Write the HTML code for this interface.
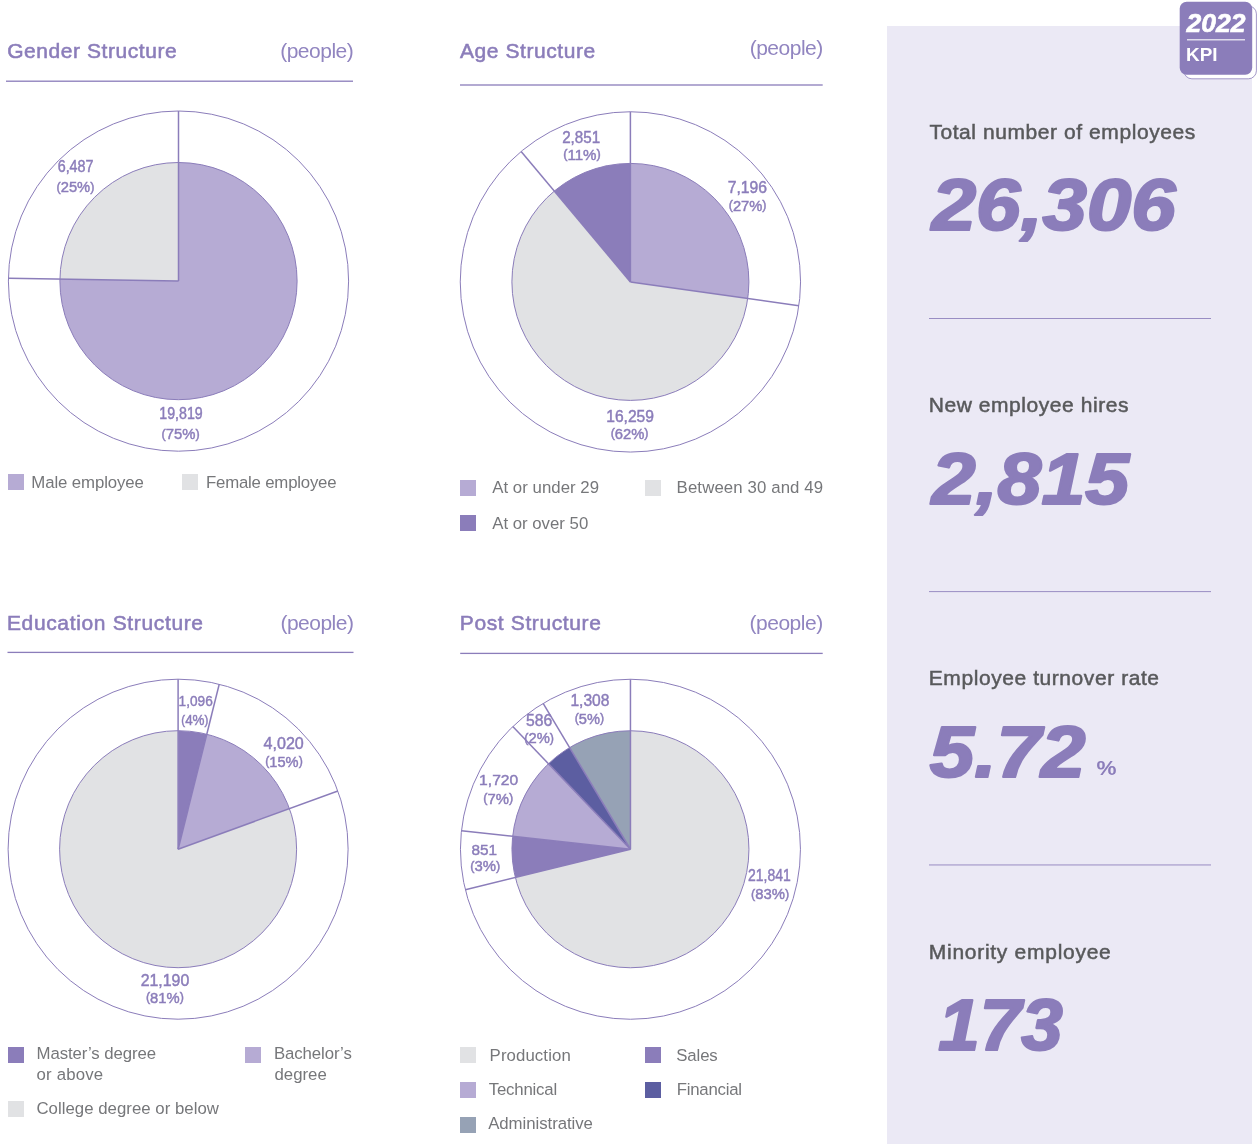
<!DOCTYPE html>
<html lang="en">
<head>
<meta charset="utf-8">
<title>Employee Structure – 2022 KPI</title>
<style>
html,body{margin:0;padding:0;background:#fff;}
body{width:1258px;height:1144px;overflow:hidden;font-family:"Liberation Sans",sans-serif;}
.page{position:relative;width:1258px;height:1144px;overflow:hidden;background:#fff;}
.page span,.page h2,.page p,.page i,.page svg,.page div{position:absolute;margin:0;padding:0;border:0;white-space:nowrap;line-height:1;}
.page svg{left:0;top:0;}
h2.t{color:#8b7dba;font-weight:normal;-webkit-text-stroke:0.55px #8b7dba;}
.u{color:#9185c0;font-weight:normal;}
i.sq{width:16px;height:16px;display:block;}
.lg{color:#76777a;font-weight:normal;}
.kl{color:#58595b;font-weight:normal;-webkit-text-stroke:0.5px #58595b;}
svg text{font-family:"Liberation Sans",sans-serif;}
svg .lb text{fill:#8b7dba;stroke:#8b7dba;stroke-width:0.45px;}
svg .num text{fill:#8b7dba;stroke:#8b7dba;stroke-width:2.2px;stroke-linejoin:round;font-weight:bold;font-style:italic;}
</style>
</head>
<body>
<main class="page">

<section id="gender">
<h2 class="t" style="left:7.20px;top:40px;font-size:21px;letter-spacing:0.56px">Gender Structure</h2>
<span class="u" style="left:280.20px;top:40px;font-size:21px;letter-spacing:-0.5px">(people)</span>
<svg width="1258" height="1144" viewBox="0 0 1258 1144">
<rect x="6" y="80.55" width="347.00" height="1.3" fill="#8b7dba"/>
<circle cx="178.5" cy="281.1" r="170.1" fill="#fff" stroke="#8b7dba" stroke-width="1"/>
<path d="M178.50 281.10L178.50 162.50A118.6 118.6 0 1 1 59.92 279.03Z" fill="#b6abd4"/>
<path d="M178.50 281.10L59.92 279.03A118.6 118.6 0 0 1 178.50 162.50Z" fill="#e1e2e4"/>
<circle cx="178.5" cy="281.1" r="118.6" fill="none" stroke="#8b7dba" stroke-width="1"/>
<line x1="178.5" y1="281.1" x2="178.50" y2="111.00" stroke="#8b7dba" stroke-width="1.5"/>
<line x1="178.5" y1="281.1" x2="8.43" y2="278.13" stroke="#8b7dba" stroke-width="1.5"/>
<g class="lb">
<text x="57.68" y="171.90" font-size="15.9" textLength="35.83" lengthAdjust="spacingAndGlyphs">6,487</text>
<text x="56.54" y="192.00" font-size="14.7" textLength="37.82" lengthAdjust="spacingAndGlyphs"><tspan font-size="12.5" dy="-1.3">(</tspan><tspan dy="1.3">25%</tspan><tspan font-size="12.5" dy="-1.3">)</tspan></text>
<text x="159.28" y="418.80" font-size="15.9" textLength="43.43" lengthAdjust="spacingAndGlyphs">19,819</text>
<text x="161.64" y="438.90" font-size="14.7" textLength="38.12" lengthAdjust="spacingAndGlyphs"><tspan font-size="12.5" dy="-1.3">(</tspan><tspan dy="1.3">75%</tspan><tspan font-size="12.5" dy="-1.3">)</tspan></text>
</g>
</svg>
<i class="sq" style="left:8px;top:474px;background:#b6abd4"></i>
<span class="lg" style="left:31.30px;top:475px;font-size:16.8px;letter-spacing:-0.1px">Male employee</span>
<i class="sq" style="left:182.2px;top:474px;background:#e1e2e4"></i>
<span class="lg" style="left:206.00px;top:475px;font-size:16.8px;letter-spacing:-0.2px">Female employee</span>
</section>
<section id="age">
<h2 class="t" style="left:460.00px;top:40px;font-size:21px;letter-spacing:0.56px">Age Structure</h2>
<span class="u" style="left:749.70px;top:37px;font-size:21px;letter-spacing:-0.5px">(people)</span>
<svg width="1258" height="1144" viewBox="0 0 1258 1144">
<rect x="460" y="84.35" width="362.70" height="1.3" fill="#8b7dba"/>
<circle cx="630.4" cy="281.9" r="170.15" fill="#fff" stroke="#8b7dba" stroke-width="1"/>
<path d="M630.40 281.90L630.40 163.40A118.5 118.5 0 0 1 747.73 298.49Z" fill="#b6abd4"/>
<path d="M630.40 281.90L747.73 298.49A118.5 118.5 0 1 1 554.31 191.06Z" fill="#e1e2e4"/>
<path d="M630.40 281.90L554.31 191.06A118.5 118.5 0 0 1 630.40 163.40Z" fill="#8b7dba"/>
<circle cx="630.4" cy="281.9" r="118.5" fill="none" stroke="#8b7dba" stroke-width="1"/>
<line x1="630.4" y1="281.9" x2="630.40" y2="111.75" stroke="#8b7dba" stroke-width="1.5"/>
<line x1="630.4" y1="281.9" x2="798.87" y2="305.73" stroke="#8b7dba" stroke-width="1.5"/>
<line x1="630.4" y1="281.9" x2="521.14" y2="151.46" stroke="#8b7dba" stroke-width="1.5"/>
<g class="lb">
<text x="562.18" y="142.80" font-size="15.9" textLength="38.03" lengthAdjust="spacingAndGlyphs">2,851</text>
<text x="563.15" y="159.70" font-size="14.4" textLength="37.60" lengthAdjust="spacingAndGlyphs"><tspan font-size="12.2" dy="-1.3">(</tspan><tspan dy="1.3">11%</tspan><tspan font-size="12.2" dy="-1.3">)</tspan></text>
<text x="727.68" y="192.80" font-size="15.9" textLength="39.33" lengthAdjust="spacingAndGlyphs">7,196</text>
<text x="728.75" y="210.70" font-size="14.4" textLength="37.70" lengthAdjust="spacingAndGlyphs"><tspan font-size="12.2" dy="-1.3">(</tspan><tspan dy="1.3">27%</tspan><tspan font-size="12.2" dy="-1.3">)</tspan></text>
<text x="606.20" y="421.70" font-size="15.6" textLength="47.80" lengthAdjust="spacingAndGlyphs">16,259</text>
<text x="610.65" y="438.75" font-size="14.4" textLength="37.90" lengthAdjust="spacingAndGlyphs"><tspan font-size="12.2" dy="-1.3">(</tspan><tspan dy="1.3">62%</tspan><tspan font-size="12.2" dy="-1.3">)</tspan></text>
</g>
</svg>
<i class="sq" style="left:460.2px;top:480px;background:#b6abd4"></i>
<span class="lg" style="left:492.20px;top:480px;font-size:16.8px;letter-spacing:0.04px">At or under 29</span>
<i class="sq" style="left:645.2px;top:480px;background:#e1e2e4"></i>
<span class="lg" style="left:676.60px;top:480px;font-size:16.8px;letter-spacing:0.12px">Between 30 and 49</span>
<i class="sq" style="left:460.2px;top:515px;background:#8b7dba"></i>
<span class="lg" style="left:492.20px;top:516px;font-size:16.8px;letter-spacing:0.0px">At or over 50</span>
</section>
<section id="education">
<h2 class="t" style="left:6.90px;top:612px;font-size:21px;letter-spacing:0.65px">Education Structure</h2>
<span class="u" style="left:280.40px;top:612px;font-size:21px;letter-spacing:-0.5px">(people)</span>
<svg width="1258" height="1144" viewBox="0 0 1258 1144">
<rect x="7.5" y="651.75" width="346.00" height="1.3" fill="#8b7dba"/>
<circle cx="178.1" cy="849.2" r="170" fill="#fff" stroke="#8b7dba" stroke-width="1"/>
<path d="M178.10 849.20L178.10 730.70A118.5 118.5 0 0 1 206.77 734.22Z" fill="#8b7dba"/>
<path d="M178.10 849.20L206.77 734.22A118.5 118.5 0 0 1 289.45 808.67Z" fill="#b6abd4"/>
<path d="M178.10 849.20L289.45 808.67A118.5 118.5 0 1 1 178.10 730.70Z" fill="#e1e2e4"/>
<circle cx="178.1" cy="849.2" r="118.5" fill="none" stroke="#8b7dba" stroke-width="1"/>
<line x1="178.1" y1="849.2" x2="178.10" y2="679.20" stroke="#8b7dba" stroke-width="1.5"/>
<line x1="178.1" y1="849.2" x2="219.23" y2="684.25" stroke="#8b7dba" stroke-width="1.5"/>
<line x1="178.1" y1="849.2" x2="337.85" y2="791.06" stroke="#8b7dba" stroke-width="1.5"/>
<g class="lb">
<text x="178.61" y="705.90" font-size="15.4" textLength="34.19" lengthAdjust="spacingAndGlyphs">1,096</text>
<text x="181.37" y="725.10" font-size="14.0" textLength="26.96" lengthAdjust="spacingAndGlyphs"><tspan font-size="11.9" dy="-1.3">(</tspan><tspan dy="1.3">4%</tspan><tspan font-size="11.9" dy="-1.3">)</tspan></text>
<text x="263.59" y="748.70" font-size="15.8" textLength="40.22" lengthAdjust="spacingAndGlyphs">4,020</text>
<text x="265.25" y="766.65" font-size="14.4" textLength="37.50" lengthAdjust="spacingAndGlyphs"><tspan font-size="12.2" dy="-1.3">(</tspan><tspan dy="1.3">15%</tspan><tspan font-size="12.2" dy="-1.3">)</tspan></text>
<text x="140.69" y="985.75" font-size="15.7" textLength="48.61" lengthAdjust="spacingAndGlyphs">21,190</text>
<text x="145.95" y="1002.70" font-size="14.4" textLength="37.90" lengthAdjust="spacingAndGlyphs"><tspan font-size="12.2" dy="-1.3">(</tspan><tspan dy="1.3">81%</tspan><tspan font-size="12.2" dy="-1.3">)</tspan></text>
</g>
</svg>
<i class="sq" style="left:8px;top:1047px;background:#8b7dba"></i>
<span class="lg" style="left:36.50px;top:1046px;font-size:16.8px;letter-spacing:-0.08px">Master’s degree</span>
<span class="lg" style="left:36.50px;top:1067px;font-size:16.8px;letter-spacing:0.2px">or above</span>
<i class="sq" style="left:244.8px;top:1047px;background:#b6abd4"></i>
<span class="lg" style="left:274.00px;top:1046px;font-size:16.8px;letter-spacing:-0.1px">Bachelor’s</span>
<span class="lg" style="left:274.50px;top:1067px;font-size:16.8px;letter-spacing:0.0px">degree</span>
<i class="sq" style="left:8px;top:1101px;background:#e1e2e4"></i>
<span class="lg" style="left:36.40px;top:1101px;font-size:16.8px;letter-spacing:0.03px">College degree or below</span>
</section>
<section id="post">
<h2 class="t" style="left:459.80px;top:612px;font-size:21px;letter-spacing:0.62px">Post Structure</h2>
<span class="u" style="left:749.60px;top:612px;font-size:21px;letter-spacing:-0.5px">(people)</span>
<svg width="1258" height="1144" viewBox="0 0 1258 1144">
<rect x="460.2" y="652.75" width="362.50" height="1.3" fill="#8b7dba"/>
<circle cx="630.45" cy="849.25" r="170" fill="#fff" stroke="#8b7dba" stroke-width="1"/>
<path d="M630.45 849.25L630.45 730.75A118.5 118.5 0 1 1 515.37 877.52Z" fill="#e1e2e4"/>
<path d="M630.45 849.25L515.37 877.52A118.5 118.5 0 0 1 512.65 836.35Z" fill="#8b7dba"/>
<path d="M630.45 849.25L512.65 836.35A118.5 118.5 0 0 1 548.43 763.72Z" fill="#b6abd4"/>
<path d="M630.45 849.25L548.43 763.72A118.5 118.5 0 0 1 569.60 747.57Z" fill="#5c5ea1"/>
<path d="M630.45 849.25L569.60 747.57A118.5 118.5 0 0 1 630.45 730.75Z" fill="#96a2b5"/>
<circle cx="630.45" cy="849.25" r="118.5" fill="none" stroke="#8b7dba" stroke-width="1"/>
<line x1="630.45" y1="849.25" x2="630.45" y2="679.25" stroke="#8b7dba" stroke-width="1.5"/>
<line x1="630.45" y1="849.25" x2="465.36" y2="889.80" stroke="#8b7dba" stroke-width="1.5"/>
<line x1="630.45" y1="849.25" x2="461.46" y2="830.74" stroke="#8b7dba" stroke-width="1.5"/>
<line x1="630.45" y1="849.25" x2="512.79" y2="726.55" stroke="#8b7dba" stroke-width="1.5"/>
<line x1="630.45" y1="849.25" x2="543.15" y2="703.38" stroke="#8b7dba" stroke-width="1.5"/>
<g class="lb">
<text x="570.39" y="705.60" font-size="15.8" textLength="39.02" lengthAdjust="spacingAndGlyphs">1,308</text>
<text x="574.75" y="723.70" font-size="14.4" textLength="29.40" lengthAdjust="spacingAndGlyphs"><tspan font-size="12.2" dy="-1.3">(</tspan><tspan dy="1.3">5%</tspan><tspan font-size="12.2" dy="-1.3">)</tspan></text>
<text x="526.00" y="725.60" font-size="15.6" textLength="26.20" lengthAdjust="spacingAndGlyphs">586</text>
<text x="524.37" y="742.80" font-size="14.0" textLength="29.66" lengthAdjust="spacingAndGlyphs"><tspan font-size="11.9" dy="-1.3">(</tspan><tspan dy="1.3">2%</tspan><tspan font-size="11.9" dy="-1.3">)</tspan></text>
<text x="479.12" y="785.30" font-size="15.0" textLength="39.15" lengthAdjust="spacingAndGlyphs">1,720</text>
<text x="483.26" y="803.50" font-size="14.2" textLength="29.88" lengthAdjust="spacingAndGlyphs"><tspan font-size="12.1" dy="-1.3">(</tspan><tspan dy="1.3">7%</tspan><tspan font-size="12.1" dy="-1.3">)</tspan></text>
<text x="471.50" y="854.70" font-size="15.5" textLength="25.59" lengthAdjust="spacingAndGlyphs">851</text>
<text x="470.36" y="871.10" font-size="14.2" textLength="29.98" lengthAdjust="spacingAndGlyphs"><tspan font-size="12.1" dy="-1.3">(</tspan><tspan dy="1.3">3%</tspan><tspan font-size="12.1" dy="-1.3">)</tspan></text>
<text x="748.08" y="880.90" font-size="15.9" textLength="42.73" lengthAdjust="spacingAndGlyphs">21,841</text>
<text x="750.94" y="898.90" font-size="14.6" textLength="38.21" lengthAdjust="spacingAndGlyphs"><tspan font-size="12.4" dy="-1.3">(</tspan><tspan dy="1.3">83%</tspan><tspan font-size="12.4" dy="-1.3">)</tspan></text>
</g>
</svg>
<i class="sq" style="left:460.2px;top:1047.4px;background:#e1e2e4"></i>
<span class="lg" style="left:489.60px;top:1048px;font-size:16.8px;letter-spacing:0.1px">Production</span>
<i class="sq" style="left:645.2px;top:1047.4px;background:#8b7dba"></i>
<span class="lg" style="left:676.20px;top:1048px;font-size:16.8px;letter-spacing:-0.1px">Sales</span>
<i class="sq" style="left:460.2px;top:1081.7px;background:#b6abd4"></i>
<span class="lg" style="left:488.80px;top:1082px;font-size:16.8px;letter-spacing:-0.2px">Technical</span>
<i class="sq" style="left:645.2px;top:1081.7px;background:#5c5ea1"></i>
<span class="lg" style="left:676.80px;top:1082px;font-size:16.8px;letter-spacing:-0.25px">Financial</span>
<i class="sq" style="left:460.2px;top:1117.2px;background:#96a2b5"></i>
<span class="lg" style="left:488.20px;top:1116px;font-size:16.8px;letter-spacing:-0.05px">Administrative</span>
</section>
<aside id="kpi">
<div style="left:887px;top:26px;width:365px;height:1118px;background:#ebe9f5"></div>
<svg width="1258" height="1144" viewBox="0 0 1258 1144">
<rect x="1183.9" y="5.9" width="72.5" height="72.9" rx="8" ry="8" fill="#fff" stroke="#8b7dba" stroke-width="0.8"/>
<rect x="1179.7" y="1.8" width="72.5" height="73" rx="7" ry="7" fill="#8b7dba"/>
<text x="1186.6" y="31.9" font-size="25" font-weight="bold" font-style="italic" fill="#fff" stroke="#fff" stroke-width="0.6" textLength="59" lengthAdjust="spacingAndGlyphs">2022</text>
<rect x="1187" y="39" width="58" height="1.5" fill="#fff" opacity="0.72"/>
<text x="1186" y="61" font-size="18.7" font-weight="bold" fill="#fff" textLength="31.5" lengthAdjust="spacingAndGlyphs">KPI</text>
<g class="num">
<text x="931.80" y="230.40" font-size="71.5" textLength="243.80" lengthAdjust="spacingAndGlyphs">26,306</text>
<text x="931.80" y="504.00" font-size="71.5" textLength="197.30" lengthAdjust="spacingAndGlyphs">2,815</text>
<text x="929.80" y="777.00" font-size="71.5" textLength="155.60" lengthAdjust="spacingAndGlyphs">5.72</text>
<text x="938.30" y="1050.40" font-size="71.5" textLength="124.30" lengthAdjust="spacingAndGlyphs">173</text>
</g>
<text x="1096.6" y="774.9" font-size="21" font-weight="bold" fill="#8b7dba" textLength="20" lengthAdjust="spacingAndGlyphs">%</text>
<rect x="929" y="318.00" width="282" height="1" fill="#8b7dba" opacity="0.85"/>
<rect x="929" y="591.10" width="282" height="1" fill="#8b7dba" opacity="0.85"/>
<rect x="929" y="864.45" width="282" height="1" fill="#8b7dba" opacity="0.85"/>
</svg>
<p class="kl" style="left:929.40px;top:121px;font-size:21px;letter-spacing:0.57px">Total number of employees</p>
<p class="kl" style="left:928.80px;top:394px;font-size:21px;letter-spacing:0.55px">New employee hires</p>
<p class="kl" style="left:928.80px;top:667px;font-size:21px;letter-spacing:0.57px">Employee turnover rate</p>
<p class="kl" style="left:928.80px;top:941px;font-size:21px;letter-spacing:0.72px">Minority employee</p>
</aside>
</main>
</body>
</html>
